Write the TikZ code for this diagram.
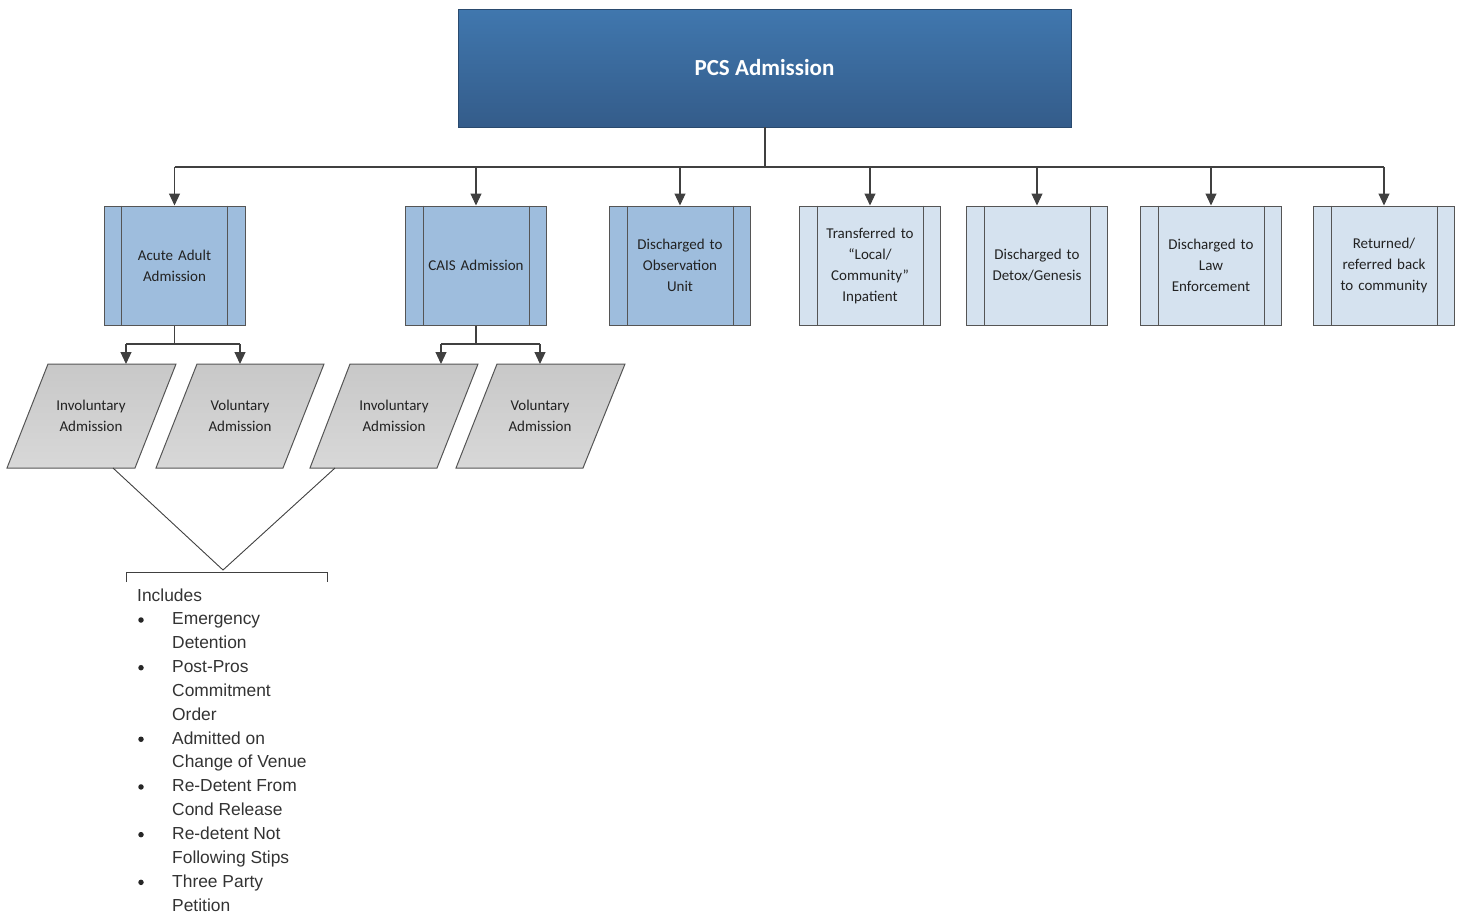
\documentclass[tikz,border=0pt]{standalone}
\usepackage{fontspec}
\setmainfont{Carlito}
\newfontfamily\arialf{Liberation Sans}
\usetikzlibrary{arrows.meta}
\definecolor{topA}{HTML}{4077AE}
\definecolor{topB}{HTML}{345C8A}
\definecolor{midblue}{HTML}{9EBDDD}
\definecolor{lightblue}{HTML}{D5E2EF}
\definecolor{edgec}{HTML}{555555}
\definecolor{linec}{HTML}{404040}
\definecolor{txt}{HTML}{222222}
\definecolor{listc}{HTML}{333333}
\definecolor{paraA}{HTML}{C8C8C8}
\definecolor{paraB}{HTML}{D8D8D8}
\begin{document}
\begin{tikzpicture}[x=1pt,y=-1pt,
  conn/.style={draw=linec, line width=1.1pt},
  arr/.style={conn,-{Triangle[width=11pt,length=12pt]}},
  proc/.style={draw=edgec, line width=1pt, minimum width=141pt, minimum height=119pt,
    inner sep=0pt, text width=104pt, align=center,
    font=\fontsize{15}{21}\selectfont, text=txt},
  procdark/.style={proc, fill=midblue},
  proclight/.style={proc, fill=lightblue},
  paratxt/.style={inner sep=0pt, align=center, font=\fontsize{15}{21}\selectfont, text=txt},
  parashape/.style={draw=edgec, line width=1pt, top color=paraA, bottom color=paraB},
  listtxt/.style={inner sep=0pt, font=\arialf\fontsize{17.4}{23.9}\selectfont, text=listc},
  bul/.style={circle, fill=black!85, inner sep=0pt, minimum size=5.5pt}
]
\useasboundingbox (0,0) rectangle (1460,914);

% top node
\node[draw=topB!80!black, line width=0.6pt, top color=topA, bottom color=topB,
  minimum width=613pt, minimum height=118pt, inner sep=0pt,
  text=white, font=\fontsize{23}{26}\selectfont\bfseries] (pcs) at (764.5,68) {PCS Admission};

% process boxes
\node[procdark]  (acute) at (174.5,265.5) {Acute Adult\\Admission};
\node[procdark]  (cais)  at (476,265.5)   {CAIS Admission};
\node[procdark]  (obs)   at (680,265.5)   {Discharged to\\Observation\\Unit};
\node[proclight] (trans) at (870,265.5)   {Transferred to\\“Local/\\Community”\\Inpatient};
\node[proclight] (detox) at (1037,265.5)  {Discharged to\\Detox/Genesis};
\node[proclight] (law)   at (1211,265.5)  {Discharged to\\Law\\Enforcement};
\node[proclight] (ret)   at (1384,265.5)  {Returned/\\referred back\\to community};
\foreach \n in {acute,cais,obs,trans,detox,law,ret}{
  \draw[draw=edgec, line width=1pt] ([xshift=18pt]\n.north west) -- ([xshift=18pt]\n.south west);
  \draw[draw=edgec, line width=1pt] ([xshift=-18pt]\n.north east) -- ([xshift=-18pt]\n.south east);
}

% bus from top node
\coordinate (busmid) at (765,167);
\coordinate (busL) at (174.5,167);
\coordinate (busR) at (1384,167);
\draw[conn] (pcs.south -| busmid) -- (busmid);
\draw[conn] (busL) -- (busR);
\draw[draw=linec, line width=1.8pt] (busmid) -- (1211,167);
\foreach \n in {acute,cais,obs,trans,detox,law,ret}{
  \draw[arr] (\n.north |- busmid) -- (\n.north);
}

% parallelograms
\draw[parashape] (48,364) -- (176,364) -- (135,468) -- (7,468) -- cycle;
\draw[parashape] (197,364) -- (324,364) -- (283,468) -- (156,468) -- cycle;
\draw[parashape] (350,364) -- (478,364) -- (437,468) -- (310,468) -- cycle;
\draw[parashape] (497,364) -- (625,364) -- (583,468) -- (456,468) -- cycle;
\node[paratxt] (inv1) at (91,416) {Involuntary\\Admission};
\node[paratxt] (vol1) at (240,416) {Voluntary\\Admission};
\node[paratxt] (inv2) at (394,416) {Involuntary\\Admission};
\node[paratxt] (vol2) at (540,416) {Voluntary\\Admission};
\coordinate (inv1top) at (126,364);
\coordinate (vol1top) at (240,364);
\coordinate (inv2top) at (441,364);
\coordinate (vol2top) at (540,364);
\coordinate (inv1bot) at (113,468);
\coordinate (inv2bot) at (335,468);

% branches
\coordinate (acuteJ) at (174.5,344);
\coordinate (caisJ) at (476,344);
\draw[conn] (acute.south) -- (acuteJ);
\draw[conn] (inv1top |- acuteJ) -- (vol1top |- acuteJ);
\draw[arr] (inv1top |- acuteJ) -- (inv1top);
\draw[arr] (vol1top |- acuteJ) -- (vol1top);
\draw[conn] (cais.south) -- (caisJ);
\draw[conn] (inv2top |- caisJ) -- (vol2top |- caisJ);
\draw[arr] (inv2top |- caisJ) -- (inv2top);
\draw[arr] (vol2top |- caisJ) -- (vol2top);

% bracket annotation
\coordinate (apex) at (223,570);
\draw[draw=linec, line width=0.9pt] (inv1bot) -- (apex) -- (inv2bot);
\draw[draw=linec, line width=0.9pt] (126,582) -- (126,572) -- (327,572) -- (327,582);

% list
\foreach \i/\xx/\t in {0/137/Includes, 1/172/Emergency, 2/172/Detention, 3/172/Post-Pros,
  4/172/Commitment, 5/172/Order, 6/172/Admitted on, 7/172/Change of Venue,
  8/172/Re-Detent From, 9/172/Cond Release, 10/172/Re-detent Not,
  11/172/Following Stips, 12/172/Three Party, 13/172/Petition}
  \node[listtxt, anchor=base west] (li\i) at (\xx, 601+23.85*\i) {\t};
\foreach \i in {1,3,6,8,10,12}
  \node[bul] (bu\i) at (141, 620+23.85*\i-23.85) {};
\end{tikzpicture}
\end{document}
